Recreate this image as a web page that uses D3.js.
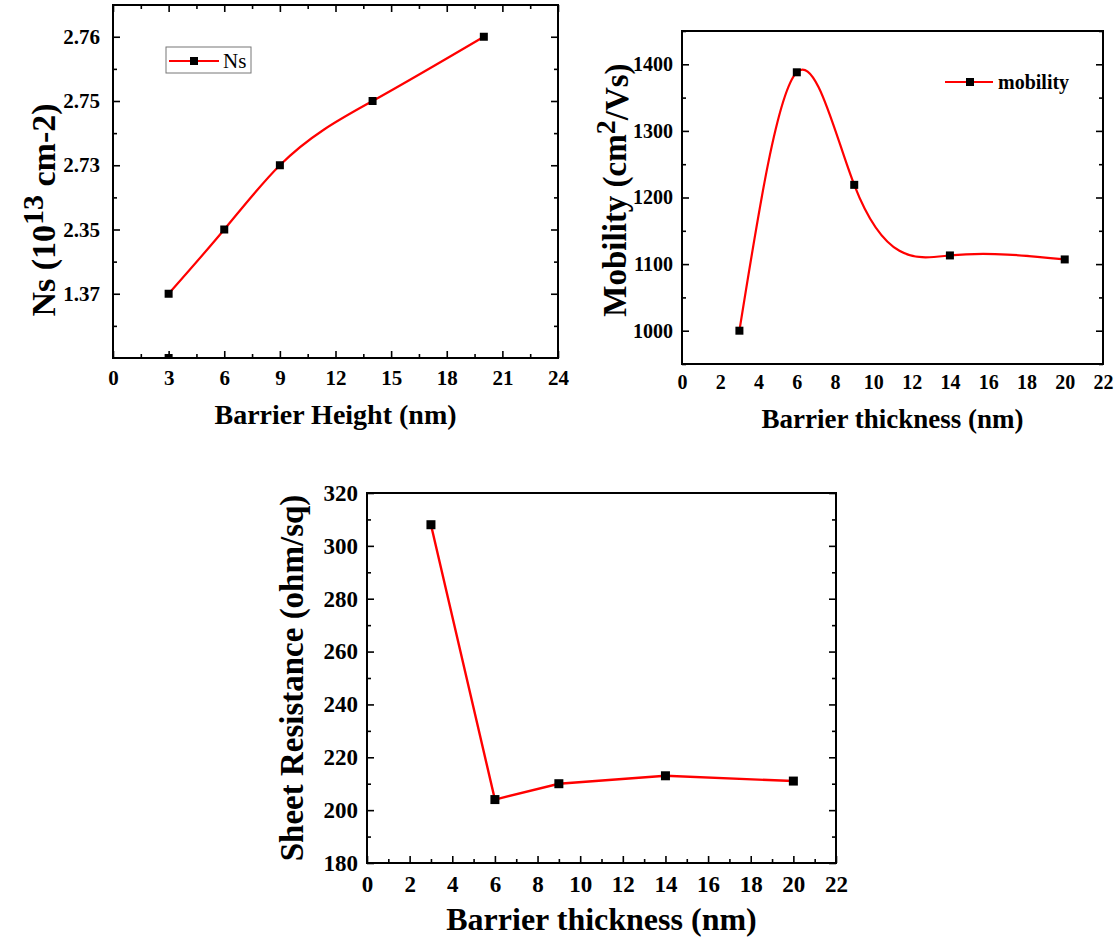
<!DOCTYPE html>
<html><head><meta charset="utf-8">
<script src="https://cdn.jsdelivr.net/npm/d3@7"></script>
<style>body{margin:0;background:#fff}svg{display:block}</style>
</head><body><svg id="c" width="1116" height="942"></svg>
<script>
// ---------- data ----------
const thickness = [3, 6, 9, 14, 20];
const nsValues = [1.37, 2.35, 2.73, 2.75, 2.76];
const nsTickLabels = ["1.37", "2.35", "2.73", "2.75", "2.76"];
const nsStray = [{x: 3, v: 0}];
const mobility = [1000, 1388, 1219, 1113, 1107];
const mobilityTicks = [1000, 1100, 1200, 1300, 1400];
const sheetRes = [308, 204, 210, 213, 211];
const sheetTicks = [180, 200, 220, 240, 260, 280, 300, 320];
const xTicksNs = [0, 3, 6, 9, 12, 15, 18, 21, 24];
const xTicksThick = [0, 2, 4, 6, 8, 10, 12, 14, 16, 18, 20, 22];

const FONT = '"Liberation Serif","Times New Roman",serif';
const svg = d3.select("#c");

// natural cubic spline y(x) as a d3 curve (exact cubic Bézier segments)
function NaturalX(context) { this._context = context; }
NaturalX.prototype = {
  areaStart() { this._line = 0; }, areaEnd() { this._line = NaN; },
  lineStart() { this._x = []; this._y = []; },
  point(x, y) { this._x.push(+x); this._y.push(+y); },
  lineEnd() {
    const X = this._x, Y = this._y, n = X.length, c = this._context;
    if (!n) return;
    c.moveTo(X[0], Y[0]);
    if (n === 2) { c.lineTo(X[1], Y[1]); return; }
    const h = [], s = [];
    for (let i = 0; i < n - 1; i++) { h.push(X[i + 1] - X[i]); s.push((Y[i + 1] - Y[i]) / h[i]); }
    // tridiagonal solve for second derivatives M (natural: M0 = Mn-1 = 0)
    const M = new Array(n).fill(0);
    const a = [], b = [], cc = [], d = [];
    for (let i = 1; i < n - 1; i++) {
      a.push(h[i - 1]); b.push(2 * (h[i - 1] + h[i])); cc.push(h[i]); d.push(6 * (s[i] - s[i - 1]));
    }
    const m = b.length;
    for (let i = 1; i < m; i++) { const w = a[i] / b[i - 1]; b[i] -= w * cc[i - 1]; d[i] -= w * d[i - 1]; }
    const sol = new Array(m);
    sol[m - 1] = d[m - 1] / b[m - 1];
    for (let i = m - 2; i >= 0; i--) sol[i] = (d[i] - cc[i] * sol[i + 1]) / b[i];
    for (let i = 0; i < m; i++) M[i + 1] = sol[i];
    for (let i = 0; i < n - 1; i++) {
      const m0 = s[i] - h[i] * (2 * M[i] + M[i + 1]) / 6;
      const m1 = s[i] + h[i] * (M[i] + 2 * M[i + 1]) / 6;
      c.bezierCurveTo(X[i] + h[i] / 3, Y[i] + m0 * h[i] / 3, X[i + 1] - h[i] / 3, Y[i + 1] - m1 * h[i] / 3, X[i + 1], Y[i + 1]);
    }
  }
};
const curveNaturalX = ctx => new NaturalX(ctx);

function txt(g) { return g.append("text").attr("font-family", FONT).attr("font-weight", "bold").attr("fill", "#000"); }
function frame(g, p) {
  g.append("rect").attr("x", p.l).attr("y", p.t).attr("width", p.r - p.l).attr("height", p.b - p.t)
    .attr("fill", "none").attr("stroke", "#000").attr("stroke-width", 2);
}
function axis(g, gen, tx, ty, fs) {
  const a = g.append("g").attr("transform", `translate(${tx},${ty})`).call(gen)
    .attr("font-family", FONT).attr("font-size", fs).attr("font-weight", "bold");
  a.select(".domain").remove();
  a.selectAll(".tick line").attr("stroke", "#000").attr("stroke-width", 1.6);
  a.selectAll("text").attr("fill", "#000");
  return a;
}
function marker(g, pts, size) {
  g.selectAll(null).data(pts).join("rect")
    .attr("x", d => d[0] - size / 2).attr("y", d => d[1] - size / 2)
    .attr("width", size).attr("height", size).attr("fill", "#000");
}
function mids(arr) { const m = []; for (let i = 0; i < arr.length - 1; i++) m.push((arr[i] + arr[i + 1]) / 2); return m; }

// ---------- Panel 1: Ns ----------
{
  const p = {l: 113, r: 558, t: 5, b: 358};
  const g = svg.append("g");
  const x = d3.scaleLinear().domain([0, 24]).range([p.l, p.r]);
  const levels = [0].concat(nsValues);
  const step = 64.25;
  const top = nsValues[nsValues.length - 1] + (nsValues[nsValues.length - 1] - nsValues[nsValues.length - 2]) / 2;
  const y = d3.scaleLinear().domain(levels.concat([top])).range(levels.concat([top]).map((d, i) => p.b - i * step));
  const yMinor = mids(levels);
  const xMinor = mids(xTicksNs);
  axis(g, d3.axisLeft(y).tickValues(nsValues).tickFormat((d, i) => nsTickLabels[i]).tickSize(-7).tickPadding(13), p.l, 0, 21);
  axis(g, d3.axisLeft(y).tickValues(yMinor).tickFormat("").tickSize(-4), p.l, 0, 21);
  axis(g, d3.axisRight(y).tickValues(nsValues).tickFormat("").tickSize(-7), p.r, 0, 21);
  axis(g, d3.axisRight(y).tickValues(yMinor).tickFormat("").tickSize(-4), p.r, 0, 21);
  axis(g, d3.axisBottom(x).tickValues(xTicksNs).tickFormat(d3.format("d")).tickSize(-7).tickPadding(12), 0, p.b, 21);
  axis(g, d3.axisBottom(x).tickValues(xMinor).tickFormat("").tickSize(-4), 0, p.b, 21);
  axis(g, d3.axisTop(x).tickValues(xTicksNs).tickFormat("").tickSize(-7), 0, p.t, 21);
  axis(g, d3.axisTop(x).tickValues(xMinor).tickFormat("").tickSize(-4), 0, p.t, 21);
  g.append("clipPath").attr("id", "clip1").append("rect").attr("x", p.l).attr("y", p.t).attr("width", p.r - p.l).attr("height", p.b - p.t);
  const pts = thickness.map((t, i) => [x(t), y(nsValues[i])]);
  g.append("path").attr("d", d3.line().curve(curveNaturalX)(pts)).attr("fill", "none").attr("stroke", "#ff0000").attr("stroke-width", 2.2);
  marker(g, pts, 8);
  marker(g.append("g").attr("clip-path", "url(#clip1)"), nsStray.map(d => [x(d.x), y(d.v)]), 8);
  frame(g, p);
  // legend
  g.append("rect").attr("x", 166).attr("y", 47).attr("width", 85).attr("height", 26).attr("fill", "#fff").attr("stroke", "#777").attr("stroke-width", 1);
  g.append("line").attr("x1", 169).attr("x2", 219).attr("y1", 61).attr("y2", 61).attr("stroke", "#ff0000").attr("stroke-width", 2.2);
  marker(g, [[194, 61]], 8);
  txt(g).attr("x", 223).attr("y", 68).attr("font-size", 21).attr("font-weight", "normal").text("Ns");
  // titles
  txt(g).attr("x", (p.l + p.r) / 2).attr("y", 424).attr("text-anchor", "middle").attr("font-size", 28).text("Barrier Height (nm)");
  const yt = txt(g).attr("transform", "translate(55,210) rotate(-90)").attr("text-anchor", "middle").attr("font-size", 34);
  yt.append("tspan").text("Ns (10");
  yt.append("tspan").attr("dy", "-0.4em").attr("font-size", "0.88em").text("13");
  yt.append("tspan").attr("dy", "0.35em").text(" cm-2)");
}

// ---------- Panel 2: Mobility ----------
{
  const p = {l: 682, r: 1103, t: 31, b: 364};
  const g = svg.append("g");
  const x = d3.scaleLinear().domain([0, 22]).range([p.l, p.r]);
  const y = d3.scaleLinear().domain([950, 1450]).range([p.b, p.t]);
  const yMinor = d3.range(950, 1451, 100);
  axis(g, d3.axisLeft(y).tickValues(mobilityTicks).tickFormat(d3.format("d")).tickSize(-7).tickPadding(9), p.l, 0, 20);
  axis(g, d3.axisLeft(y).tickValues(yMinor).tickFormat("").tickSize(-4), p.l, 0, 20);
  axis(g, d3.axisRight(y).tickValues(mobilityTicks).tickFormat("").tickSize(-7), p.r, 0, 20);
  axis(g, d3.axisRight(y).tickValues(yMinor).tickFormat("").tickSize(-4), p.r, 0, 20);
  axis(g, d3.axisBottom(x).tickValues(xTicksThick).tickFormat(d3.format("d")).tickSize(0).tickPadding(11), 0, p.b, 20);
  const pts = thickness.map((t, i) => [x(t), y(mobility[i])]);
  g.append("path").attr("d", d3.line().curve(curveNaturalX)(pts)).attr("fill", "none").attr("stroke", "#ff0000").attr("stroke-width", 2.2);
  marker(g, pts, 8);
  frame(g, p);
  g.append("line").attr("x1", 945).attr("x2", 993).attr("y1", 82).attr("y2", 82).attr("stroke", "#ff0000").attr("stroke-width", 2.2);
  marker(g, [[970, 82]], 8);
  txt(g).attr("x", 998).attr("y", 89).attr("font-size", 20).text("mobility");
  txt(g).attr("x", (p.l + p.r) / 2).attr("y", 428).attr("text-anchor", "middle").attr("font-size", 27).text("Barrier thickness (nm)");
  const yt = txt(g).attr("transform", "translate(626,190) rotate(-90)").attr("text-anchor", "middle").attr("font-size", 33);
  yt.append("tspan").text("Mobility (cm");
  yt.append("tspan").attr("dy", "-0.4em").attr("font-size", "0.85em").text("2");
  yt.append("tspan").attr("dy", "0.4em").text("/Vs)");
}

// ---------- Panel 3: Sheet resistance ----------
{
  const p = {l: 367, r: 836, t: 493, b: 863};
  const g = svg.append("g");
  const x = d3.scaleLinear().domain([0, 22]).range([p.l, p.r]);
  const y = d3.scaleLinear().domain([180, 320]).range([p.b, p.t]);
  const yMinor = d3.range(190, 320, 20);
  const xMinor = d3.range(1, 22, 2);
  axis(g, d3.axisLeft(y).tickValues(sheetTicks).tickFormat(d3.format("d")).tickSize(-7).tickPadding(9), p.l, 0, 23);
  axis(g, d3.axisLeft(y).tickValues(yMinor).tickFormat("").tickSize(-4), p.l, 0, 23);
  axis(g, d3.axisRight(y).tickValues(sheetTicks).tickFormat("").tickSize(-7), p.r, 0, 23);
  axis(g, d3.axisRight(y).tickValues(yMinor).tickFormat("").tickSize(-4), p.r, 0, 23);
  axis(g, d3.axisBottom(x).tickValues(xTicksThick).tickFormat(d3.format("d")).tickSize(-7).tickPadding(13), 0, p.b, 23);
  axis(g, d3.axisBottom(x).tickValues(xMinor).tickFormat("").tickSize(-4), 0, p.b, 23);
  const pts = thickness.map((t, i) => [x(t), y(sheetRes[i])]);
  g.append("path").attr("d", d3.line().curve(d3.curveLinear)(pts)).attr("fill", "none").attr("stroke", "#ff0000").attr("stroke-width", 2.4);
  marker(g, pts, 9);
  frame(g, p);
  txt(g).attr("x", (p.l + p.r) / 2).attr("y", 930).attr("text-anchor", "middle").attr("font-size", 32).text("Barrier thickness (nm)");
  txt(g).attr("transform", `translate(303,${(p.t + p.b) / 2}) rotate(-90)`).attr("text-anchor", "middle").attr("font-size", 33).text("Sheet Resistance (ohm/sq)");
}
</script></body></html>
